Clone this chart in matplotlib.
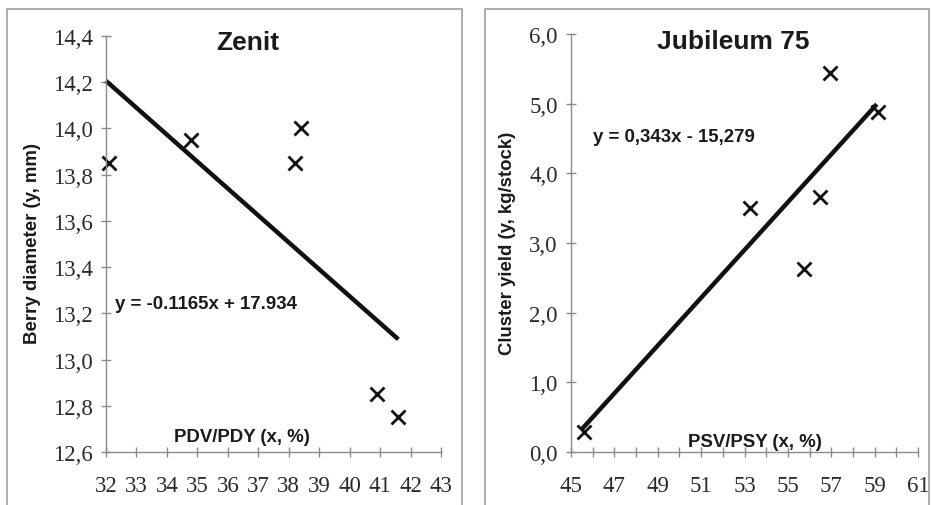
import numpy as np
import matplotlib
matplotlib.use("Agg")
import matplotlib.pyplot as plt
from matplotlib.patches import Rectangle

# Zenit: berry diameter vs PDV/PDY
zenit_x = [32.1, 34.8, 38.2, 38.4, 40.9, 41.6]
zenit_y = [13.85, 13.95, 13.85, 14.0, 12.85, 12.75]
zenit_coef, zenit_icpt = -0.1165, 17.934
zenit_fit_x = [32.0, 41.6]

# Jubileum 75: cluster yield vs PSV/PSY
jub_x = [45.6, 53.25, 55.75, 56.5, 56.95, 59.15]
jub_y = [0.29, 3.5, 2.63, 3.66, 5.44, 4.88]
jub_coef, jub_icpt = 0.343, -15.279
jub_fit_x = [45.5, 59.1]

W, H = 931, 506
fig = plt.figure(figsize=(W / 100, H / 100), dpi=100)
fig.patch.set_facecolor("white")

sans = "Liberation Sans"
serif = "Liberation Serif"
grey = "#8a8a8a"
lab_fs = 13.4

# panel frames
for x0, x1 in [(7, 462), (485, 929)]:
    fig.patches.append(Rectangle((x0 / W, -0.02), (x1 - x0) / W, 1.0, transform=fig.transFigure,
                                 fill=False, edgecolor="#a0a0a0", lw=1.2))


def style(ax):
    for s in ["top", "right"]:
        ax.spines[s].set_visible(False)
    for s in ["left", "bottom"]:
        ax.spines[s].set_color(grey)
        ax.spines[s].set_linewidth(1.0)
    ax.tick_params(direction="inout", length=7, width=1, color=grey, labelcolor="#2a2a2a")
    ax.tick_params(axis="y", pad=6)
    ax.tick_params(axis="x", pad=13)
    for lab in ax.get_xticklabels() + ax.get_yticklabels():
        lab.set_fontfamily(serif)
        lab.set_fontsize(16.5)
    ax.patch.set_alpha(0)


def comma(v, nd=1):
    return f"{v:.{nd}f}".replace(".", ",")


# left panel
ax1 = fig.add_axes([106 / W, 53 / H, 335 / W, 416 / H])
ax1.set_xlim(32, 43)
ax1.set_ylim(12.6, 14.4)
ax1.set_xticks(range(32, 44))
ax1.set_xticklabels([str(v) for v in range(32, 44)])
yt = np.round(np.arange(12.6, 14.41, 0.2), 1)
ax1.set_yticks(yt)
ax1.set_yticklabels([comma(v) for v in yt])
fx = np.array(zenit_fit_x)
ax1.plot(fx, zenit_coef * fx + zenit_icpt, color="#111111", lw=3.2, solid_capstyle="butt", clip_on=False)
ax1.plot(zenit_x, zenit_y, "x", color="#111111", ms=10, mew=2, clip_on=False)
style(ax1)
ax1.text(0.424, 0.985, "Zenit", transform=ax1.transAxes, ha="center", va="center",
         fontfamily=sans, fontweight="bold", fontsize=19, color="#1a1a1a")
ax1.text(0.027, 0.356, "y = -0.1165x + 17.934", transform=ax1.transAxes, ha="left", va="center",
         fontfamily=sans, fontweight="bold", fontsize=lab_fs, color="#1a1a1a")
ax1.text(0.406, 0.038, "PDV/PDY (x, %)", transform=ax1.transAxes, ha="center", va="center",
         fontfamily=sans, fontweight="bold", fontsize=lab_fs, color="#1a1a1a")
fig.text(33 / W, 1 - 244 / H, "Berry diameter (y, mm)", rotation=90, ha="center", va="center",
         fontfamily=sans, fontweight="bold", fontsize=lab_fs, color="#1a1a1a")

# right panel
ax2 = fig.add_axes([571 / W, 53 / H, 347 / W, 418 / H])
ax2.set_xlim(45, 61)
ax2.set_ylim(0, 6)
ax2.set_xticks(range(45, 62))
ax2.set_xticklabels([str(v) if v % 2 == 1 else "" for v in range(45, 62)])
ax2.set_yticks(range(0, 7))
ax2.set_yticklabels([comma(v) for v in range(0, 7)])
fx = np.array(jub_fit_x)
ax2.plot(fx, jub_coef * fx + jub_icpt, color="#111111", lw=3.2, solid_capstyle="butt", clip_on=False)
ax2.plot(jub_x, jub_y, "x", color="#111111", ms=10, mew=2, clip_on=False)
style(ax2)
ax2.text(0.467, 0.983, "Jubileum 75", transform=ax2.transAxes, ha="center", va="center",
         fontfamily=sans, fontweight="bold", fontsize=19, color="#1a1a1a")
ax2.text(0.063, 0.754, "y = 0,343x - 15,279", transform=ax2.transAxes, ha="left", va="center",
         fontfamily=sans, fontweight="bold", fontsize=lab_fs, color="#1a1a1a")
ax2.text(0.530, 0.024, "PSV/PSY (x, %)", transform=ax2.transAxes, ha="center", va="center",
         fontfamily=sans, fontweight="bold", fontsize=lab_fs, color="#1a1a1a")
fig.text(508 / W, 1 - 243 / H, "Cluster yield (y, kg/stock)", rotation=90, ha="center", va="center",
         fontfamily=sans, fontweight="bold", fontsize=lab_fs, color="#1a1a1a")

fig.savefig("out.png", dpi=100)
